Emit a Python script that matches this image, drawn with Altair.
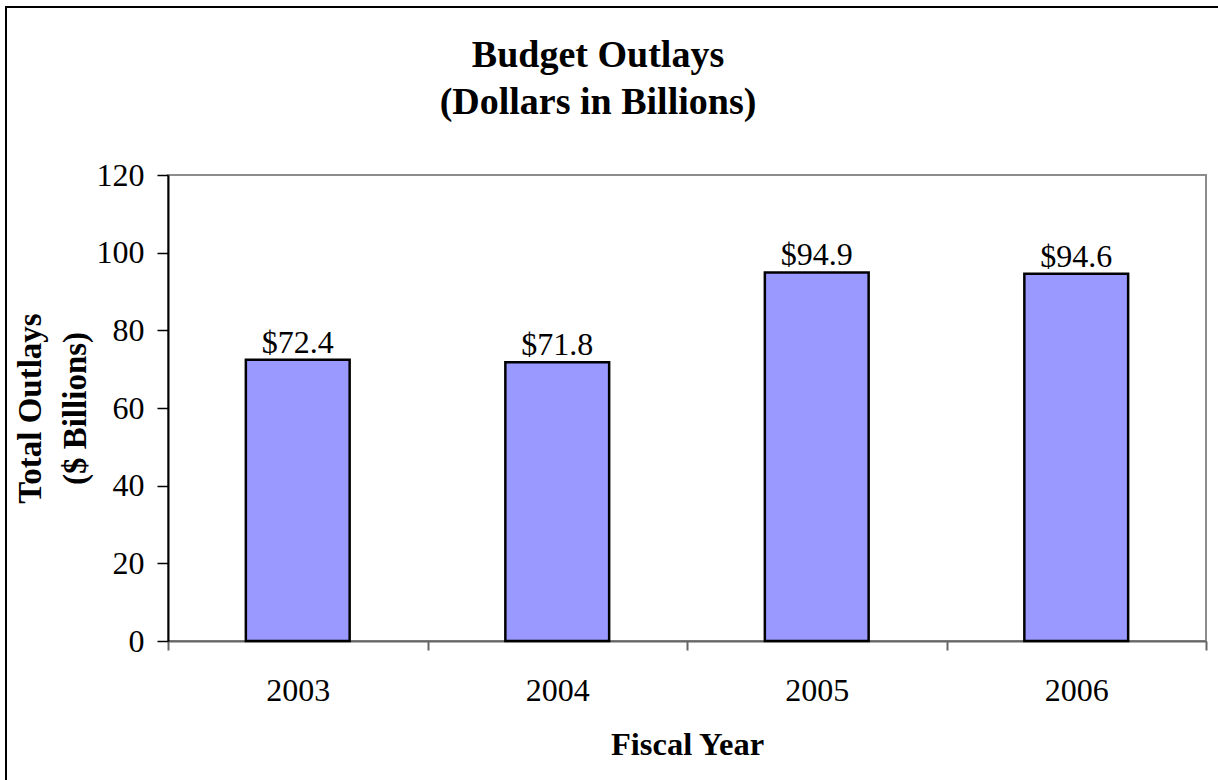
import altair as alt
import pandas as pd

years = ["2003", "2004", "2005", "2006"]
outlays = [72.4, 71.8, 94.9, 94.6]
y_ticks = [0, 20, 40, 60, 80, 100, 120]
title_lines = ["Budget Outlays", "(Dollars in Billions)"]
y_title = ["Total Outlays", "($ Billions)"]
x_title = "Fiscal Year"

df = pd.DataFrame({"year": years, "outlay": outlays})
df["label"] = ["$" + f"{v:.1f}" for v in outlays]
one = pd.DataFrame({"k": [0]})

FONT = "Liberation Serif"
W, H = 1038, 466
PL, PT = 168, 175

x_enc = alt.X(
    "year:N", title=x_title, sort=years,
    scale=alt.Scale(paddingInner=0, paddingOuter=0),
    axis=alt.Axis(
        labelAngle=0, labelFont=FONT, labelFontSize=32, labelColor="black",
        labelBaseline="alphabetic", labelPadding=50, tickSize=9, tickBand="extent",
        domainColor="#666666", domainWidth=2, tickColor="#666666", tickWidth=2,
        titleFont=FONT, titleFontSize=32.5, titleFontWeight="bold", titleColor="black",
        titleBaseline="alphabetic", titleY=113, grid=False,
    ),
)
y_enc = alt.Y(
    "outlay:Q", title=y_title,
    scale=alt.Scale(domain=[0, 120], nice=False),
    axis=alt.Axis(
        values=y_ticks, labelFont=FONT, labelFontSize=32, labelColor="black",
        labelPadding=13, tickSize=11, tickColor="black", tickWidth=1.5,
        domainColor="black", domainWidth=2, grid=False,
        titleFont=FONT, titleFontSize=33, titleFontWeight="bold", titleColor="black",
        titleAngle=270, titleBaseline="alphabetic", titleAlign="center",
        titleX=-128, titleY=H / 2, titleLineHeight=45,
    ),
)

base = alt.Chart(df)
bars = base.mark_bar(
    fill="#9999ff", stroke="black", strokeWidth=2.5, width=alt.RelativeBandSize(0.4)
).encode(x=x_enc, y=y_enc)
labels = base.mark_text(font=FONT, fontSize=32, baseline="alphabetic", dy=-7, color="black").encode(
    x=x_enc, y=y_enc, text="label:N"
)
title = alt.Chart(one).mark_text(
    font=FONT, fontSize=38, fontWeight="bold", baseline="alphabetic", align="center",
    lineHeight=47, color="black"
).encode(x=alt.value(598 - PL), y=alt.value(67 - PT), text=alt.value(title_lines))
border = alt.Chart(one).mark_rect(fillOpacity=0, stroke="black", strokeWidth=2).encode(
    x=alt.value(6 - PL), x2=alt.value(1218 - PL + 20),
    y=alt.value(7 - PT), y2=alt.value(780 - PT + 20),
)

chart = alt.layer(bars, labels, title, border).properties(
    width=W, height=H,
    autosize=alt.AutoSizeParams(type="none"),
    padding={"left": PL, "top": PT, "right": 1218 - PL - W, "bottom": 780 - PT - H},
    background="white",
).configure_view(stroke="#8c8c8c", strokeWidth=2)

chart.save("out.html", embed_options={"renderer": "svg", "actions": False})
